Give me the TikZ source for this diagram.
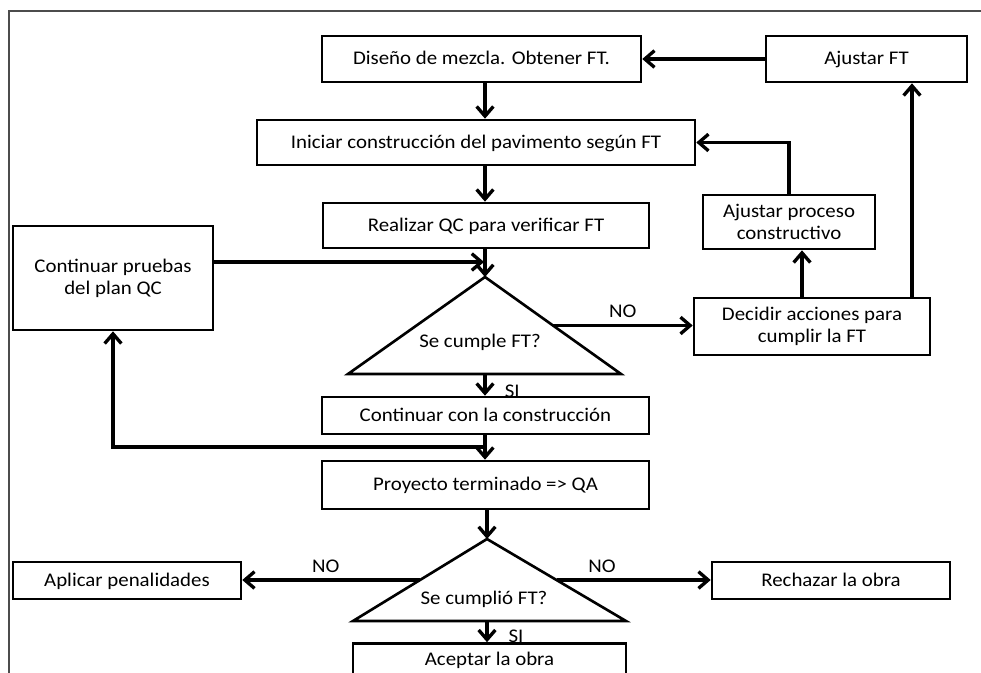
\documentclass[tikz,border=0pt]{standalone}
\usepackage{fontspec}
\setmainfont{Carlito}[FakeStretch=1.08]
\usetikzlibrary{arrows.meta,calc}

\begin{document}
\begin{tikzpicture}[x=0.02cm,y=-0.02cm,
    font=\fontsize{11}{12.5}\selectfont,
    caja/.style 2 args={draw,line width=1.5pt,minimum width=#1,minimum height=#2,inner sep=0pt,align=center},
    linea/.style={text height=1.4ex,text depth=0pt},
    flecha/.style={line width=1.9pt,-{Straight Barb[length=5.5pt,width=9.5pt]}},
    borde/.style={line width=1.5pt,line join=miter}]
    \clip (0,0) rectangle (981,673);
    % Marco de la figura (solo arriba y a la izquierda):
    \draw [gray!60!black,line width=0.9pt] (981,11) -- (9,11) -- (9,673);
    % Eje vertical principal:
    \coordinate (eje) at (485,0);

    % Cajas:
    \node [caja={6.38cm}{0.92cm},linea] (diseno) at (481.5,59) {Diseño de mezcla. Obtener FT.};
    \node [caja={4.02cm}{0.92cm},linea] (ajft) at (866.5,59) {Ajustar FT};
    \node [caja={8.76cm}{0.90cm},linea] (ini) at (476,142.5) {Iniciar construcción del pavimento según FT};
    \node [caja={6.52cm}{0.90cm},linea] (qc) at (486,225.5) {Realizar QC para verificar FT};
    \node [caja={3.44cm}{1.08cm}] (ajpc) at (789,222) {Ajustar proceso\\constructivo};
    \node [caja={4.00cm}{2.08cm}] (cpq) at (113,278) {Continuar pruebas\\del plan QC};
    \node [caja={4.72cm}{1.14cm}] (dec) at (812,326.5) {Decidir acciones para\\cumplir la FT};
    \node [caja={6.54cm}{0.74cm},linea] (ccon) at (485.5,415.5) {Continuar con la construcción};
    \node [caja={6.54cm}{0.96cm},linea] (proy) at (485.5,485) {Proyecto terminado => QA};
    \node [caja={4.56cm}{0.74cm},linea] (apl) at (127,580.5) {Aplicar penalidades};
    \node [caja={4.76cm}{0.74cm},linea] (rech) at (831,580.5) {Rechazar la obra};
    % la caja de abajo queda cortada por el borde
    \node [caja={5.46cm}{0.66cm},linea] (acep) at (489.5,660) {Aceptar la obra};

    % Triangulos de decision:
    \coordinate (t1a) at (485,277);
    \coordinate (t1l) at (348,374);
    \coordinate (t1r) at (621,374);
    \draw [borde] (t1a) -- (t1r) -- (t1l) -- cycle;
    \node [linea] (t1) at (480,342) {Se cumple FT?};

    \coordinate (t2a) at (487,539);
    \coordinate (t2l) at (353,621);
    \coordinate (t2r) at (626,621);
    \draw [borde] (t2a) -- (t2r) -- (t2l) -- cycle;
    \node [linea] (t2) at (484,599) {Se cumplió FT?};

    % Flechas del eje central:
    \draw [flecha] (ajft.west) -- (diseno.east);
    \draw [flecha] (diseno.south -| eje) -- (ini.north -| eje);
    \draw [flecha] (ini.south -| eje) -- (qc.north -| eje);
    \draw [flecha] (qc.south -| eje) -- (t1a);
    \coordinate (cruce) at (484,262);
    \draw [flecha] (cpq.east |- cruce) -- (cruce);
    \draw [flecha] (t1a |- t1l) -- (t1a |- ccon.north) node [pos=0.8,right,xshift=7pt] {SI};
    \draw [flecha] (ccon.south -| eje) -- (proy.north -| eje);
    \draw [flecha] (proy.south -| t2a) -- (t2a);
    \draw [flecha] (t2a |- t2l) -- (t2a |- acep.north) node [pos=0.72,right,xshift=8pt] {SI};

    % Rama NO de la primera decision:
    \draw [flecha] ($(t1a)!0.5!(t1r)$) coordinate (s1) -- (s1 -| dec.west) node [midway,above] {NO};
    \draw [flecha] ([xshift=-0.2cm]dec.north) -- ([xshift=-0.2cm]dec.north |- ajpc.south);
    \draw [flecha] ([xshift=2cm]dec.north) -- ([xshift=2cm]dec.north |- ajft.south);
    \draw [flecha] (ajpc.north) |- (ini.east);

    % Retorno a las pruebas del plan QC:
    \coordinate (retorno) at (485,447);
    \draw [flecha] (retorno) -| (cpq.south);

    % Ramas NO de la segunda decision:
    \draw [flecha] ($(t2a)!0.5!(t2l)$) coordinate (s2) -- (s2 -| apl.east) node [midway,above,xshift=-3pt] {NO};
    \draw [flecha] ($(t2a)!0.5!(t2r)$) coordinate (s3) -- (s3 -| rech.west) node [midway,above,xshift=-18pt] {NO};
\end{tikzpicture}
\end{document}
